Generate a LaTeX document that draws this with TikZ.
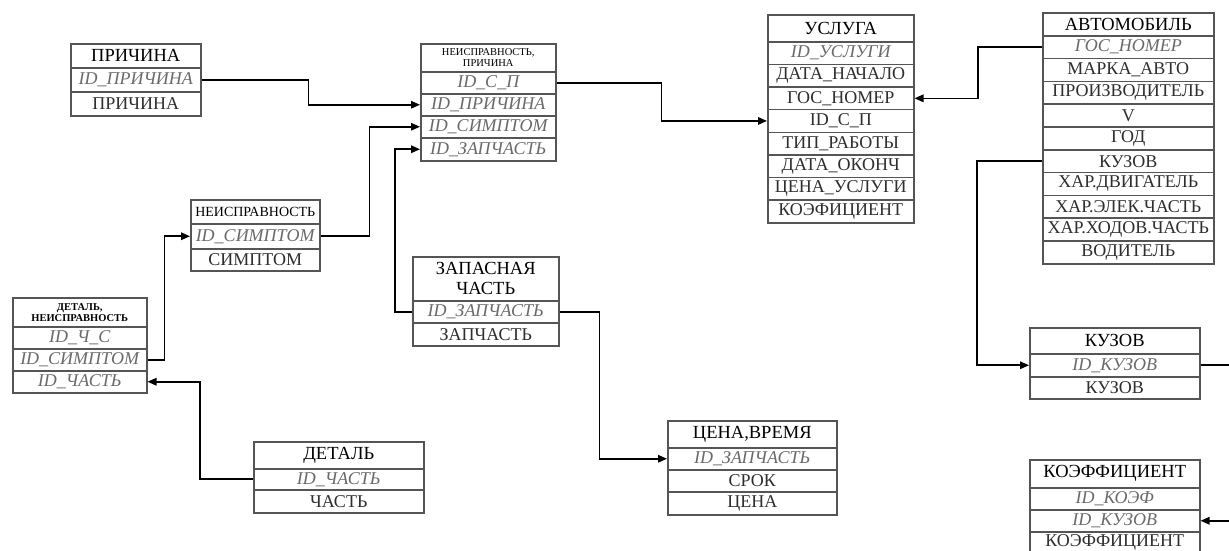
\documentclass[tikz,border=0pt]{standalone}
\usepackage{fontspec}
\setmainfont{Liberation Serif}
\usetikzlibrary{arrows.meta}

\definecolor{boxgray}{HTML}{555555}
\definecolor{fieldgray}{HTML}{2E2E2E}
\definecolor{keygray}{HTML}{6A6A6A}

% one cell of an entity table: style, name, left, top, width, height, text
\newcommand{\ercell}[7]{%
  \node[#1, minimum width=#5pt, minimum height=#6pt] (#2) at (#3,#4) {#7};}

\tikzset{
  cell/.style={draw=boxgray, line width=1.5pt, anchor=north west, inner sep=0pt,
    align=center, text=fieldgray, font=\fontsize{18}{19}\selectfont},
  keycell/.style={cell, text=keygray, font=\fontsize{18}{19}\selectfont\itshape},
  headcell/.style={cell, text=black, font=\fontsize{18.5}{20}\selectfont},
  smallhead/.style={cell, text=black, font=\fontsize{10.5}{11}\selectfont},
  link/.style={draw=black, line width=1.6pt},
  arr/.style={link, -{Triangle[length=9pt,width=7.5pt]}},
}

\begin{document}
\begin{tikzpicture}[x=1pt, y=-1pt]
\useasboundingbox (0,0) rectangle (1229,550);
\fill[white] (0,0) rectangle (1229,550);

% ПРИЧИНА
\ercell{headcell}{pr-h}{70}{43}{130}{24}{ПРИЧИНА}
\ercell{keycell}{pr-1}{70}{67}{130}{24}{ID\_ПРИЧИНА}
\ercell{cell}{pr-2}{70}{91}{130}{24}{ПРИЧИНА}

% НЕИСПРАВНОСТЬ, ПРИЧИНА
\ercell{smallhead}{np-h}{420}{43}{135}{28}{НЕИСПРАВНОСТЬ,\\ПРИЧИНА}
\ercell{keycell}{np-1}{420}{71}{135}{22}{ID\_С\_П}
\ercell{keycell}{np-2}{420}{93}{135}{22}{ID\_ПРИЧИНА}
\ercell{keycell}{np-3}{420}{115}{135}{22}{ID\_СИМПТОМ}
\ercell{keycell}{np-4}{420}{137}{135}{23}{ID\_ЗАПЧАСТЬ}

% УСЛУГА
\ercell{headcell}{us-h}{767}{14}{146}{27}{УСЛУГА}
\ercell{keycell}{us-1}{767}{41}{146}{22.625}{ID\_УСЛУГИ}
\ercell{cell}{us-2}{767}{63.625}{146}{22.625}{ДАТА\_НАЧАЛО}
\ercell{cell}{us-3}{767}{86.25}{146}{22.625}{ГОС\_НОМЕР}
\ercell{cell}{us-4}{767}{108.875}{146}{22.625}{ID\_С\_П}
\ercell{cell}{us-5}{767}{131.5}{146}{22.625}{ТИП\_РАБОТЫ}
\ercell{cell}{us-6}{767}{154.125}{146}{22.625}{ДАТА\_ОКОНЧ}
\ercell{cell}{us-7}{767}{176.75}{146}{22.625}{ЦЕНА\_УСЛУГИ}
\ercell{cell}{us-8}{767}{199.375}{146}{22.625}{КОЭФИЦИЕНТ}

% АВТОМОБИЛЬ
\ercell{headcell}{av-h}{1042}{12}{171}{23}{АВТОМОБИЛЬ}
\ercell{keycell}{av-1}{1042}{35}{171}{22.8}{ГОС\_НОМЕР}
\ercell{cell}{av-2}{1042}{57.8}{171}{22.8}{МАРКА\_АВТО}
\ercell{cell}{av-3}{1042}{80.6}{171}{22.8}{ПРОИЗВОДИТЕЛЬ}
\ercell{cell}{av-4}{1042}{103.4}{171}{22.8}{V}
\ercell{cell}{av-5}{1042}{126.2}{171}{22.8}{ГОД}
\ercell{cell}{av-6}{1042}{149}{171}{22.8}{КУЗОВ}
\ercell{cell}{av-7}{1042}{171.8}{171}{22.8}{ХАР.ДВИГАТЕЛЬ}
\ercell{cell}{av-8}{1042}{194.6}{171}{22.8}{ХАР.ЭЛЕК.ЧАСТЬ}
\ercell{cell}{av-9}{1042}{217.4}{171}{22.8}{ХАР.ХОДОВ.ЧАСТЬ}
\ercell{cell}{av-10}{1042}{240.2}{171}{22.8}{ВОДИТЕЛЬ}

% НЕИСПРАВНОСТЬ
\ercell{headcell}{ns-h}{190}{199}{129}{24}{\fontsize{14}{15}\selectfont НЕИСПРАВНОСТЬ}
\ercell{keycell}{ns-1}{190}{223}{129}{25}{ID\_СИМПТОМ}
\ercell{cell}{ns-2}{190}{248}{129}{22}{СИМПТОМ}

% ДЕТАЛЬ, НЕИСПРАВНОСТЬ
\ercell{smallhead}{dn-h}{12}{297}{134}{29}{\bfseries ДЕТАЛЬ,\\\bfseries НЕИСПРАВНОСТЬ}
\ercell{keycell}{dn-1}{12}{326}{134}{22}{ID\_Ч\_С}
\ercell{keycell}{dn-2}{12}{348}{134}{22}{ID\_СИМПТОМ}
\ercell{keycell}{dn-3}{12}{370}{134}{22}{ID\_ЧАСТЬ}

% ЗАПАСНАЯ ЧАСТЬ
\ercell{headcell}{zc-h}{412}{256}{146}{44}{ЗАПАСНАЯ\\ЧАСТЬ}
\ercell{keycell}{zc-1}{412}{300}{146}{22}{ID\_ЗАПЧАСТЬ}
\ercell{cell}{zc-2}{412}{322}{146}{23}{ЗАПЧАСТЬ}

% ДЕТАЛЬ
\ercell{headcell}{dt-h}{253}{441}{170}{27}{ДЕТАЛЬ}
\ercell{keycell}{dt-1}{253}{468}{170}{21}{ID\_ЧАСТЬ}
\ercell{cell}{dt-2}{253}{489}{170}{23}{ЧАСТЬ}

% ЦЕНА, ВРЕМЯ
\ercell{headcell}{cv-h}{667}{420}{169}{27}{ЦЕНА,ВРЕМЯ}
\ercell{keycell}{cv-1}{667}{447}{169}{22}{ID\_ЗАПЧАСТЬ}
\ercell{cell}{cv-2}{667}{469}{169}{22}{СРОК}
\ercell{cell}{cv-3}{667}{491}{169}{23}{ЦЕНА}

% КУЗОВ
\ercell{headcell}{kz-h}{1029}{327}{170}{26}{КУЗОВ}
\ercell{keycell}{kz-1}{1029}{353}{170}{23}{ID\_КУЗОВ}
\ercell{cell}{kz-2}{1029}{376}{170}{22}{КУЗОВ}

% КОЭФФИЦИЕНТ
\ercell{headcell}{kf-h}{1029}{459}{170}{28}{КОЭФФИЦИЕНТ}
\ercell{keycell}{kf-1}{1029}{487}{170}{22}{ID\_КОЭФ}
\ercell{keycell}{kf-2}{1029}{509}{170}{22}{ID\_КУЗОВ}
\ercell{cell}{kf-3}{1029}{531}{170}{22}{КОЭФФИЦИЕНТ}

% foreign-key links
\draw[arr] (pr-1.east) -- ++(107,0) |- (np-2.west);
\draw[arr] (ns-1.east) -- ++(49,0) |- (np-3.west);
\draw[arr] (zc-1.west) -- ++(-17,0) |- (np-4.west);
\draw[arr] (np-1.east) -- ++(105,0) |- (us-4.west);
\draw[arr] (av-1.west) -- ++(-64,0) |- (us-3.east);
\draw[arr] (av-6.west) -- ++(-65,0) |- (kz-1.west);
\draw[arr] (kz-1.east) -- ++(45,0) |- (kf-2.east);
\draw[arr] (dn-2.east) -- ++(17,0) |- (ns-1.west);
\draw[arr] (dt-1.west) -- ++(-53,0) |- (dn-3.east);
\draw[arr] (zc-1.east) -- ++(40,0) |- (cv-1.west);
\end{tikzpicture}
\end{document}
